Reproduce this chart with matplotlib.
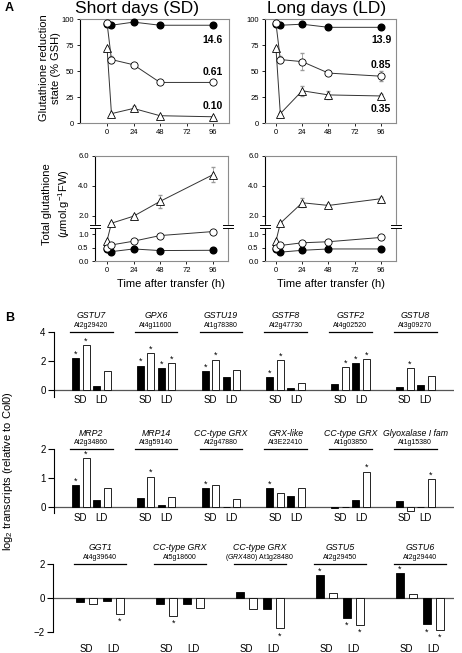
import numpy as np
import matplotlib
matplotlib.use("Agg")
import matplotlib.pyplot as plt
import matplotlib.transforms as mtransforms

plt.rcParams["font.family"] = ["Liberation Sans", "DejaVu Sans"]
plt.rcParams["mathtext.fontset"] = "custom"
plt.rcParams["mathtext.rm"] = "Liberation Sans"
plt.rcParams["mathtext.it"] = "Liberation Sans:italic"
plt.rcParams["mathtext.bf"] = "Liberation Sans:bold"

# -----------------------------
# Panel A data
# -----------------------------
hours = [0, 4, 24, 48, 96]

sd_red_filled = [95, 94, 97, 94, 94]
sd_red_open = [96, 61, 56, 39, 39]
sd_red_open_err = [0, 3, 0, 0, 0]
sd_red_tri = [72, 9, 14, 7, 6]
sd_red_tri_err = [0, 0, 2, 0, 0]

ld_red_filled = [95, 94, 95, 92, 92]
ld_red_open = [96, 61, 59, 48, 45]
ld_red_open_err = [0, 3, 8, 2, 5]
ld_red_tri = [72, 9, 31, 27, 26]
ld_red_tri_err = [0, 1, 5, 4, 2]

sd_ratio_labels = ["14.6", "0.61", "0.10"]
ld_ratio_labels = ["13.9", "0.85", "0.35"]

sd_tot_filled = [0.45, 0.35, 0.45, 0.39, 0.40]
sd_tot_open = [0.50, 0.60, 0.74, 0.95, 1.10]
sd_tot_tri = [0.76, 1.50, 1.97, 2.96, 4.75]
sd_tot_tri_err = [0, 0.05, 0.1, 0.45, 0.5]

ld_tot_filled = [0.45, 0.33, 0.40, 0.45, 0.45]
ld_tot_open = [0.48, 0.58, 0.68, 0.72, 0.88]
ld_tot_tri = [0.74, 1.50, 2.87, 2.69, 3.14]
ld_tot_tri_err = [0, 0.05, 0.3, 0.1, 0.1]

# -----------------------------
# Panel B data
# -----------------------------
genes1 = ["GSTU7", "GPX6", "GSTU19", "GSTF8", "GSTF2", "GSTU8"]
loci1 = ["At2g29420", "At4g11600", "At1g78380", "At2g47730", "At4g02520", "At3g09270"]
row1_sd_black = [2.20, 1.67, 1.30, 0.87, 0.39, 0.18]
row1_sd_white = [3.10, 2.55, 2.08, 2.07, 1.56, 1.52]
row1_ld_black = [0.28, 1.50, 0.88, 0.09, 1.84, 0.34]
row1_ld_white = [1.30, 1.85, 1.39, 0.44, 2.11, 0.97]
row1_stars = [[1, 1, 0, 0], [1, 1, 1, 1], [1, 1, 0, 0], [1, 1, 0, 0], [0, 1, 1, 1], [0, 1, 0, 0]]

genes2 = ["MRP2", "MRP14", "CC-type GRX", "GRX-like", "CC-type GRX", "Glyoxalase I fam"]
loci2 = ["At2g34860", "At3g59140", "At2g47880", "At3E22410", "At1g03850", "At1g15380"]
row2_sd_black = [0.77, 0.30, 0.65, 0.65, -0.04, 0.22]
row2_sd_white = [1.68, 1.05, 0.77, 0.48, 0.01, -0.12]
row2_ld_black = [0.25, 0.07, 0.02, 0.39, 0.25, 0.01]
row2_ld_white = [0.67, 0.36, 0.27, 0.67, 1.22, 0.96]
row2_stars = [[1, 1, 0, 0], [0, 1, 0, 0], [1, 0, 0, 0], [1, 0, 0, 0], [0, 0, 0, 1], [0, 0, 0, 1]]

genes3 = ["GGT1", "CC-type GRX", "CC-type GRX", "GSTU5", "GSTU6"]
loci3 = ["At4g39640", "At5g18600", r"$\mathit{(GRX480)}$ At1g28480", "At2g29450", "At2g29440"]
row3_sd_black = [-0.25, -0.33, 0.36, 1.35, 1.45]
row3_sd_white = [-0.33, -1.03, -0.67, 0.32, 0.24]
row3_ld_black = [-0.20, -0.33, -0.63, -1.19, -1.55]
row3_ld_white = [-0.93, -0.60, -1.78, -1.58, -1.86]
row3_stars = [[0, 0, 0, 1], [0, 1, 0, 0], [0, 0, 0, 1], [1, 0, 1, 1], [1, 0, 1, 1]]

W, H = 462, 653
fig = plt.figure(figsize=(W / 100, H / 100), dpi=100)


def add_ax(x0, y0, x1, y1):
    return fig.add_axes([x0 / W, 1 - y1 / H, (x1 - x0) / W, (y1 - y0) / H])


def px_text(x, y, s, **kw):
    # place text using pixel coordinates measured from the top-left corner
    return fig.text(x / W, 1 - y / H, s, **kw)


def frame(ax):
    for s in ["top", "right", "bottom"]:
        ax.spines[s].set_color("#8c8c8c")
        ax.spines[s].set_linewidth(0.8)
    ax.spines["left"].set_linewidth(0.8)
    ax.tick_params(labelsize=5.5, length=2.5, width=0.6, pad=2)
    ax.set_xticks([0, 24, 48, 72, 96])


def draw_series(ax, filled, opn, tri, open_err=None, tri_err=None):
    lk = dict(color="#333333", lw=0.7, clip_on=False)
    ax.plot(hours, filled, marker="o", ms=4.8, mfc="black", mec="black", zorder=3, **lk)
    if tri_err is not None:
        ax.errorbar(hours, tri, yerr=tri_err, fmt="none", ecolor="#9a9a9a", elinewidth=0.6, capsize=1.2, zorder=2)
    ax.plot(hours, tri, marker="^", ms=5.2, mfc="white", mec="black", mew=0.6, zorder=4, **lk)
    if open_err is not None:
        ax.errorbar(hours, opn, yerr=open_err, fmt="none", ecolor="#9a9a9a", elinewidth=0.6, capsize=1.2, zorder=2)
    ax.plot(hours, opn, marker="o", ms=5.2, mfc="white", mec="black", mew=0.6, zorder=5, **lk)


# piecewise y scale for the broken axis
BRK, K = 1.3, 26.7 / 14.9


def fwd(v):
    v = np.asarray(v, dtype=float)
    return np.where(v < BRK, v * K, BRK * K + (v - BRK))


def inv(t):
    t = np.asarray(t, dtype=float)
    return np.where(t < BRK * K, t / K, BRK + (t - BRK * K))


def add_break(ax):
    yb = fwd(BRK) / fwd(6.0)
    for xs in [0, 1]:
        ax.add_patch(plt.Rectangle((xs - 0.01, yb - 0.012), 0.02, 0.024, transform=ax.transAxes,
                                   color="white", clip_on=False, zorder=6))
        for dy in [-0.014, 0.014]:
            ax.plot([xs - 0.035, xs + 0.035], [yb + dy, yb + dy], transform=ax.transAxes,
                    color="black", lw=0.7, clip_on=False, zorder=7)


# ---- top row: reduction state ----
ax1 = add_ax(80, 19, 229, 123)
draw_series(ax1, sd_red_filled, sd_red_open, sd_red_tri, sd_red_open_err, sd_red_tri_err)
ax1.set_xlim(-24.5, 110.5)
ax1.set_ylim(0, 100)
ax1.set_yticks([0, 25, 50, 75, 100])
frame(ax1)
for lab, y in zip(sd_ratio_labels, [80, 49, 16]):
    ax1.text(96, y, lab, ha="center", va="center", fontsize=7.5, fontweight="bold")

ax2 = add_ax(265, 19, 396, 123)
draw_series(ax2, ld_red_filled, ld_red_open, ld_red_tri, ld_red_open_err, ld_red_tri_err)
ax2.set_xlim(-10, 109.7)
ax2.set_ylim(0, 100)
ax2.set_yticks([0, 25, 50, 75, 100])
frame(ax2)
for lab, y in zip(ld_ratio_labels, [80, 56, 13]):
    ax2.text(96, y, lab, ha="center", va="center", fontsize=7.5, fontweight="bold")

px_text(137, 8, "Short days (SD)", fontsize=12.5, ha="center", va="center")
px_text(327, 8, "Long days (LD)", fontsize=12.5, ha="center", va="center")
px_text(50, 68, "Glutathione reduction\nstate (% GSH)", fontsize=8, linespacing=1.35,
        rotation=90, ha="center", va="center")

# ---- second row: total glutathione ----
tot_ticks = [0, 0.5, 1.0, 2.0, 4.0, 6.0]
ax3 = add_ax(95, 156, 228, 261)
ax3.set_yscale("function", functions=(fwd, inv))
draw_series(ax3, sd_tot_filled, sd_tot_open, sd_tot_tri, None, sd_tot_tri_err)
ax3.set_xlim(-10.9, 109.6)
ax3.set_ylim(0, 6)
ax3.set_yticks(tot_ticks)
ax3.set_yticklabels([f"{t:.1f}" for t in tot_ticks])
frame(ax3)
add_break(ax3)

ax4 = add_ax(265, 156, 396, 261)
ax4.set_yscale("function", functions=(fwd, inv))
draw_series(ax4, ld_tot_filled, ld_tot_open, ld_tot_tri, None, ld_tot_tri_err)
ax4.set_xlim(-10, 109.7)
ax4.set_ylim(0, 6)
ax4.set_yticks(tot_ticks)
ax4.set_yticklabels([f"{t:.1f}" for t in tot_ticks])
frame(ax4)
add_break(ax4)

px_text(171, 284, "Time after transfer (h)", fontsize=8, ha="center", va="center")
px_text(331, 284, "Time after transfer (h)", fontsize=8, ha="center", va="center")
px_text(57, 204, "Total glutathione\n" + r"($\mu$mol.g$^{-1}$FW)", fontsize=8, linespacing=1.4,
        rotation=90, ha="center", va="center")

px_text(5, 8, "A", fontsize=9, fontweight="bold", va="center")
px_text(5, 318, "B", fontsize=9, fontweight="bold", va="center")


# ---- panel B ----
def bar_row(ax, genes, loci, vals, stars, step, width, ylim, yticks, lab_off):
    n = len(genes)
    k = np.arange(n)
    for j, v in enumerate(vals):
        ax.bar(k + j * step, v, width, color="black" if j % 2 == 0 else "white",
               edgecolor="black", lw=0.6, zorder=3)
        for i in range(n):
            if stars[i][j]:
                off = 4 if v[i] >= 0 else -7.5
                ax.annotate("*", (k[i] + j * step, v[i]), xytext=(0, off), textcoords="offset pixels",
                            ha="center", va="center", fontsize=6.5, annotation_clip=False)
    ax.axhline(0, color="#555555", lw=0.9, zorder=2)
    ax.set_ylim(*ylim)
    ax.set_yticks(yticks)
    for s in ["top", "right", "bottom"]:
        ax.spines[s].set_visible(False)
    ax.spines["left"].set_linewidth(0.8)
    ax.tick_params(axis="y", labelsize=7, length=4, width=0.8, pad=2)
    ax.set_xticks([])
    tr = mtransforms.blended_transform_factory(ax.transData, ax.transAxes)
    x_left = k - width * 0.8
    x_right = k + 3 * step + width * 0.8
    for i in range(n):
        ax.plot([x_left[i], x_right[i]], [1, 1], transform=tr, color="black", lw=0.9, clip_on=False)
        cx = k[i] + 1.5 * step
        ax.annotate(genes[i], (cx, 1), xycoords=tr, xytext=(0, 16), textcoords="offset pixels",
                    ha="center", va="center", fontsize=6.3, style="italic")
        ax.annotate(loci[i], (cx, 1), xycoords=tr, xytext=(0, 6.5), textcoords="offset pixels",
                    ha="center", va="center", fontsize=5)
        for lab, dx in [("SD", 0.5), ("LD", 2.5)]:
            ax.annotate(lab, (k[i] + dx * step, 0), xycoords=tr, xytext=(0, -lab_off),
                        textcoords="offset pixels", ha="center", va="center", fontsize=7)


bx1 = add_ax(54, 332, 454, 397)
bar_row(bx1, genes1, loci1, [row1_sd_black, row1_sd_white, row1_ld_black, row1_ld_white],
        row1_stars, 10.5 / 64.8, 7 / 64.8, (-0.5, 4), [0, 2, 4], 3)
bx1.set_xlim(-0.332, 5.841)

bx2 = add_ax(54, 449, 454, 513)
bar_row(bx2, genes2, loci2, [row2_sd_black, row2_sd_white, row2_ld_black, row2_ld_white],
        row2_stars, 10.5 / 64.8, 7 / 64.8, (-0.2, 2), [0, 1, 2], 5)
bx2.set_xlim(-0.332, 5.841)

bx3 = add_ax(53, 564, 454, 632)
bar_row(bx3, genes3, loci3, [row3_sd_black, row3_sd_white, row3_ld_black, row3_ld_white],
        row3_stars, 13.3 / 80, 8 / 80, (-2, 2), [-2, 0, 2], 17)
bx3.set_xlim(-0.3375, 4.675)

px_text(8, 471, r"log$_2$ transcripts (relative to Col0)", rotation=90,
        ha="center", va="center", fontsize=8)

fig.savefig("out.png", dpi=100)
